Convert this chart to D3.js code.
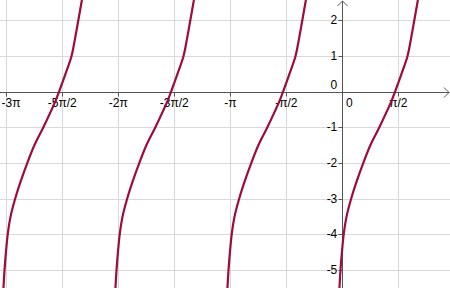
<!DOCTYPE html>
<html>
<head>
<meta charset="utf-8">
<script src="https://cdn.jsdelivr.net/npm/d3@7"></script>
<style>
  body { margin: 0; background: #fff; }
  svg { display: block; font-family: "Liberation Sans", Arial, sans-serif; }
</style>
</head>
<body>
<div id="chart"></div>
<script>
// one branch of the curve (x in radians, y)
var branchX = [-0.08, -0.05, -0.01, 0.04, 0.12, 0.25, 0.41, 0.59, 0.79, 1.04, 1.39, 1.48, 1.66, 1.83, 1.93, 2.02, 2.12];
var branchY = [-5.51, -5.0, -4.5, -4.0, -3.5, -3.0, -2.5, -2.0, -1.5, -1.0, -0.24, 0.0, 0.5, 1.0, 1.5, 2.0, 2.57];
// the same branch repeats every pi
var branchShifts = [-3, -2, -1, 0];

// x ticks in multiples of pi/2
var xTickSteps = [-6, -5, -4, -3, -2, -1, 0, 1];
var xTickLabels = ["-3π", "-5π/2", "-2π", "-3π/2", "-π", "-π/2", "0", "π/2"];
var yTicks = [-5, -4, -3, -2, -1, 0, 1, 2];

var width = 450, height = 288;

var x = d3.scaleLinear().domain([-9.602, 3.021]).range([0, width]);
var y = d3.scaleLinear().domain([2.569, -5.509]).range([0, height]);

var svg = d3.select("#chart").append("svg")
    .attr("width", width)
    .attr("height", height);

var x0 = x(0), y0 = y(0);

// grid
svg.append("g").selectAll("line").data(xTickSteps).enter().append("line")
    .attr("x1", function (d) { return Math.round(x(d * Math.PI / 2)) + 0.5; })
    .attr("x2", function (d) { return Math.round(x(d * Math.PI / 2)) + 0.5; })
    .attr("y1", 0).attr("y2", height)
    .attr("stroke", "#d9d9d9").attr("stroke-width", 1);

svg.append("g").selectAll("line").data(yTicks).enter().append("line")
    .attr("y1", function (d) { return Math.round(y(d)) + 0.5; })
    .attr("y2", function (d) { return Math.round(y(d)) + 0.5; })
    .attr("x1", 0).attr("x2", width)
    .attr("stroke", "#d9d9d9").attr("stroke-width", 1);

// axes
var ax = Math.round(x0) + 0.5, ay = Math.round(y0) + 0.5;
var axes = svg.append("g").attr("stroke", "#555").attr("stroke-width", 1).attr("fill", "none");
axes.append("line").attr("x1", 0).attr("x2", width - 1).attr("y1", ay).attr("y2", ay);
axes.append("line").attr("x1", ax).attr("x2", ax).attr("y1", 1).attr("y2", height);
axes.append("path").attr("d", "M" + (width - 6) + "," + (ay - 5) + "L" + (width - 1) + "," + ay + "L" + (width - 6) + "," + (ay + 5));
axes.append("path").attr("d", "M" + (ax - 5) + ",6L" + ax + ",1L" + (ax + 5) + ",6");

// tick marks
axes.selectAll(".xt").data(xTickSteps.filter(function (d) { return d !== 0; })).enter().append("line")
    .attr("x1", function (d) { return Math.round(x(d * Math.PI / 2)) + 0.5; })
    .attr("x2", function (d) { return Math.round(x(d * Math.PI / 2)) + 0.5; })
    .attr("y1", ay).attr("y2", ay + 4);
axes.selectAll(".yt").data(yTicks.filter(function (d) { return d !== 0; })).enter().append("line")
    .attr("y1", function (d) { return Math.round(y(d)) + 0.5; })
    .attr("y2", function (d) { return Math.round(y(d)) + 0.5; })
    .attr("x1", ax - 4).attr("x2", ax);

// tick labels
svg.append("g").selectAll("text").data(xTickSteps).enter().append("text")
    .attr("x", function (d, i) {
        if (d === 0) return x0 + 7;
        var px = x(d * Math.PI / 2);
        return Math.max(px, 11);
    })
    .attr("y", y0 + 15)
    .attr("text-anchor", "middle")
    .style("font-size", "12px")
    .attr("fill", "#000")
    .text(function (d, i) { return xTickLabels[i]; });

svg.append("g").selectAll("text").data(yTicks).enter().append("text")
    .attr("x", x0 - 5)
    .attr("y", function (d) { return d === 0 ? y0 - 3 : y(d) + 4; })
    .attr("text-anchor", "end")
    .style("font-size", "12px")
    .attr("fill", "#000")
    .text(function (d) { return d; });

// curve branches
var pts = branchX.map(function (v, i) { return [v, branchY[i]]; });
var line = d3.line()
    .x(function (d) { return x(d[0]); })
    .y(function (d) { return y(d[1]); })
    .curve(d3.curveCatmullRom.alpha(0.5));

svg.append("g").selectAll("path").data(branchShifts).enter().append("path")
    .attr("d", function (k) {
        return line(pts.map(function (p) { return [p[0] + k * Math.PI, p[1]]; }));
    })
    .attr("fill", "none")
    .attr("stroke", "#9e0b3c")
    .attr("stroke-width", 2.2);
</script>
</body>
</html>
